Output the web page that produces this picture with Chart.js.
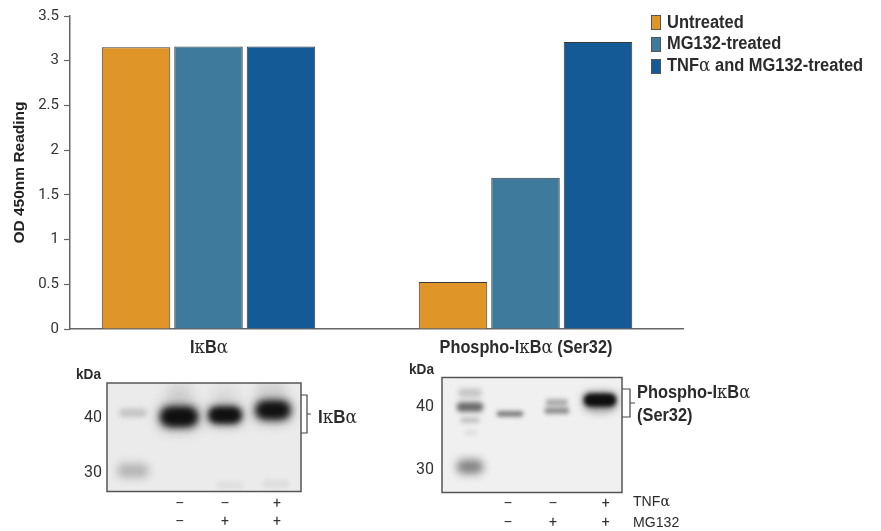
<!DOCTYPE html>
<html>
<head>
<meta charset="utf-8">
<script src="https://cdn.jsdelivr.net/npm/chart.js@4"></script>
<style>
  html, body { margin: 0; padding: 0; background: #fff; overflow: hidden; }
  #page { position: relative; width: 881px; height: 531px; }
  canvas { position: absolute; }
  .t { position: absolute; white-space: nowrap; color: #2b2b2b; font: bold 17.5px "Liberation Sans", sans-serif; line-height: 19px; transform: scaleX(0.94); transform-origin: left center; }
  .t i { font: normal 18px "DejaVu Serif", serif; line-height: 0; }
  .c { transform: translateX(-50%) scaleX(0.93); transform-origin: center center; }
  .n { font-weight: normal; }
  .sw { position: absolute; box-sizing: border-box; width: 10px; height: 15px; border: 1px solid #555; }
</style>
</head>
<body>
<div id="page">
  <canvas id="main" style="left:0;top:0"></canvas>
  <canvas id="blotA" style="left:60px;top:370px"></canvas>
  <canvas id="blotB" style="left:395px;top:365px"></canvas>

  <div class="sw" style="left:651px;top:15px;background:#E09528"></div>
  <div class="sw" style="left:651px;top:37px;background:#3D7A9B"></div>
  <div class="sw" style="left:651px;top:59px;background:#145A96"></div>
  <div class="t" style="left:667px;top:13px">Untreated</div>
  <div class="t" style="left:667px;top:34px">MG132-treated</div>
  <div class="t" style="left:667px;top:56px">TNF<i>α</i> and MG132-treated</div>

  <div class="t c" id="catA" style="top:338px">I<i>κ</i>B<i>α</i></div>
  <div class="t c" id="catB" style="top:338px">Phospho-I<i>κ</i>B<i>α</i> (Ser32)</div>

  <div class="t" style="left:76px;top:365px;font-size:14.5px">kDa</div>
  <div class="t" style="left:409px;top:360px;font-size:14.5px">kDa</div>
  <div class="t" style="left:318px;top:408px;font-size:18px">I<i>κ</i>B<i>α</i></div>
  <div class="t" style="left:637px;top:381px;font-size:18px;line-height:23px;transform:scaleX(0.91)">Phospho-I<i>κ</i>B<i>α</i><br>(Ser32)</div>
  <div class="t n" style="left:633px;top:491px;font-size:15px">TNF<i style="font-size:15px">α</i></div>
  <div class="t n" style="left:633px;top:512px;font-size:15px">MG132</div>
</div>

<script>
const TICK_FONT = 'Roboto, "Liberation Sans", sans-serif';
const INK = '#333';

// bar chart values
const categoryPos = [1, 2];
const seriesNames = ['Untreated', 'MG132-treated', 'TNFα and MG132-treated'];
const seriesColors = ['#E09528', '#3D7A9B', '#145A96'];
const untreated = [3.15, 0.525];
const mg132 = [3.16, 1.69];
const tnfMg132 = [3.16, 3.21];
const yTicks = [0, 0.5, 1, 1.5, 2, 2.5, 3, 3.5];

// blot A: lane 0 = marker, 1-3 = samples. band lane, kDa, darkness, lane width, kDa height
const blotATicks = [40, 30];
const blotATickLanes = [1.02, 2, 3.13];
const blotALabels = [['–', '–'], ['–', '+'], ['+', '+']];
const blotABandLane = [0, 0, 1, 2, 3.04, 1, 2, 3, 2.1, 3.1];
const blotABandKda = [41, 30.5, 40.3, 40.6, 41.5, 44.6, 44.3, 45.3, 27.8, 28.1];
const blotABandDark = [0.18, 0.25, 1, 0.95, 0.95, 0.12, 0.07, 0.1, 0.05, 0.06];
const blotABandW = [0.62, 0.72, 0.78, 0.7, 0.72, 0.6, 0.6, 0.7, 0.6, 0.6];
const blotABandH = [1.5, 2.6, 2.7, 2.3, 2.5, 3.5, 3.5, 3, 1.4, 1.4];

// blot B
const blotBTicks = [40, 30];
const blotBTickLanes = [0.956, 1.956, 3.13];
const blotBLabels = [['–', '–'], ['–', '+'], ['+', '+']];
const blotBBandLane = [0.11, 0.11, 0.11, 0.13, 0.11, 1, 2.04, 2.04, 3, 3];
const blotBBandKda = [40, 42.2, 37.9, 35.9, 30.5, 38.9, 40.7, 39.4, 41.1, 40.5];
const blotBBandDark = [0.6, 0.18, 0.2, 0.08, 0.5, 0.55, 0.3, 0.45, 1, 0.3];
const blotBBandW = [0.62, 0.55, 0.45, 0.3, 0.62, 0.62, 0.52, 0.58, 0.7, 0.7];
const blotBBandH = [1.5, 1.5, 0.9, 0.8, 2.2, 0.85, 1.1, 0.95, 1.5, 2.6];

function makeBars(values) {
    return values.map((v, i) => ({ x: categoryPos[i], y: v }));
}

const bracketPlugin = {
    id: 'brackets',
    afterDraw(chart) {
        const c = chart.ctx;
        c.save();
        c.strokeStyle = '#444';
        c.lineWidth = 1.2;
        [[301, 307, 311, 395, 433], [622, 630, 635, 389, 417]].forEach(b => {
            c.beginPath();
            c.moveTo(b[0], b[3]);
            c.lineTo(b[1], b[3]);
            c.lineTo(b[1], b[4]);
            c.lineTo(b[0], b[4]);
            c.moveTo(b[1], (b[3] + b[4]) / 2);
            c.lineTo(b[2], (b[3] + b[4]) / 2);
            c.stroke();
        });
        c.restore();
    }
};

const mainCanvas = document.getElementById('main');
mainCanvas.width = 881;
mainCanvas.height = 531;
mainCanvas.style.width = '881px';
mainCanvas.style.height = '531px';

const mainChart = new Chart(mainCanvas, {
    type: 'bar',
    data: {
        datasets: [untreated, mg132, tnfMg132].map((values, i) => ({
            label: seriesNames[i],
            data: makeBars(values),
            backgroundColor: seriesColors[i],
            borderColor: '#3a3a3a',
            borderWidth: 1,
            categoryPercentage: 0.686,
            barPercentage: 0.945,
        })),
    },
    options: {
        responsive: false,
        animation: false,
        layout: { padding: { left: 0, top: 16, right: 881 - 683, bottom: 531 - 329 } },
        plugins: { legend: { display: false }, tooltip: { enabled: false } },
        scales: {
            x: {
                type: 'linear',
                offset: false,
                min: 1 - 138.5 / 317,
                max: 1 + 474.5 / 317,
                afterBuildTicks(scale) { scale.ticks = categoryPos.map(value => ({ value })); },
                grid: { display: false },
                border: { color: '#666', width: 1.5 },
                ticks: { display: false },
                afterFit(scale) { scale.height = 0; },
            },
            y: {
                min: 0,
                max: 3.5,
                afterBuildTicks(scale) { scale.ticks = yTicks.map(value => ({ value })); },
                afterFit(scale) { scale.width = 70; scale.paddingTop = 0; scale.paddingBottom = 0; },
                grid: { drawOnChartArea: false, drawTicks: true, tickLength: 6, color: '#666', tickWidth: 1.2 },
                border: { color: '#666', width: 1.5 },
                ticks: {
                    color: INK,
                    padding: 5,
                    font: { family: TICK_FONT, size: 15 },
                    callback: v => String(v),
                },
                title: {
                    display: true,
                    text: 'OD 450nm Reading',
                    color: '#222',
                    padding: { top: 10, bottom: 0 },
                    font: { family: '"Liberation Sans", sans-serif', size: 15.5, weight: 'bold' },
                },
            },
        },
    },
    plugins: [bracketPlugin],
});

// category labels follow the bar scale
document.getElementById('catA').style.left = mainChart.scales.x.getPixelForValue(categoryPos[0]) + 'px';
document.getElementById('catB').style.left = mainChart.scales.x.getPixelForValue(categoryPos[1]) + 'px';

function bandRect(c, x, y, rx, ry, r) {
    c.beginPath();
    c.roundRect(x - rx, y - ry, rx * 2, ry * 2, r);
    c.fill();
}

const bandPlugin = {
    id: 'bands',
    beforeDatasetsDraw(chart) {
        const c = chart.ctx;
        const area = chart.chartArea;
        const d = chart.options.plugins.bands;
        c.save();
        c.fillStyle = d.bg;
        c.fillRect(area.left, area.top, area.width, area.height);
        c.beginPath();
        c.rect(area.left, area.top, area.width, area.height);
        c.clip();
        d.lane.forEach((lane, i) => {
            const x = chart.scales.x.getPixelForValue(lane);
            const y = chart.scales.y.getPixelForValue(d.kda[i]);
            const rx = Math.abs(chart.scales.x.getPixelForValue(d.w[i]) - chart.scales.x.getPixelForValue(0)) / 2;
            const ry = Math.abs(chart.scales.y.getPixelForValue(0) - chart.scales.y.getPixelForValue(d.h[i])) / 2;
            const blur = Math.max(2, ry * 0.6);
            if (d.dark[i] > 0.9) {
                // soft grey halo round the heavy bands
                c.filter = 'blur(' + (blur * 1.5) + 'px)';
                c.fillStyle = 'rgba(40,40,40,0.6)';
                bandRect(c, x, y, rx * 1.02, ry * 1.5, ry);
            }
            c.filter = 'blur(' + blur + 'px)';
            c.fillStyle = 'rgba(15,15,15,' + d.dark[i] + ')';
            bandRect(c, x, y, rx * 0.95, ry, ry * 0.9);
            if (d.dark[i] > 0.9) {
                bandRect(c, x, y, rx * 0.92, ry, ry * 0.9);
            }
        });
        c.restore();
    },
    afterDraw(chart) {
        const c = chart.ctx;
        const area = chart.chartArea;
        c.save();
        c.strokeStyle = '#555';
        c.lineWidth = 1.5;
        c.strokeRect(area.left, area.top, area.width, area.height);
        c.restore();
    }
};

function makeBlot(id, box, yRange, xRange, cfg) {
    const canvas = document.getElementById(id);
    canvas.width = box.w;
    canvas.height = box.h;
    canvas.style.width = box.w + 'px';
    canvas.style.height = box.h + 'px';
    return new Chart(canvas, {
        type: 'scatter',
        data: {
            datasets: [{
                data: cfg.lane.map((lane, i) => ({ x: lane, y: cfg.kda[i] })),
                pointRadius: 0,
            }],
        },
        options: {
            responsive: false,
            animation: false,
            layout: { padding: { left: 0, top: box.top, right: box.right, bottom: 0 } },
            plugins: { legend: { display: false }, tooltip: { enabled: false }, bands: cfg },
            scales: {
                x: {
                    type: 'linear',
                    min: xRange[0],
                    max: xRange[1],
                    grid: { display: false, drawTicks: false },
                    border: { display: false },
                    afterBuildTicks(scale) { scale.ticks = cfg.tickLanes.map(value => ({ value })); },
                    afterFit(scale) { scale.height = box.h - box.top - box.plotH; scale.paddingLeft = 0; scale.paddingRight = 0; },
                    afterTickToLabelConversion(scale) {
                        scale.ticks.forEach((t, i) => { t.label = cfg.labels[i]; });
                    },
                    ticks: {
                        color: INK,
                        padding: box.xPad,
                        maxRotation: 0,
                        autoSkip: false,
                        font: { family: TICK_FONT, size: 14, lineHeight: box.xLine },
                    },
                },
                y: {
                    min: yRange[0],
                    max: yRange[1],
                    grid: { display: false, drawTicks: false },
                    border: { display: false },
                    afterBuildTicks(scale) { scale.ticks = cfg.ticks.map(value => ({ value })); },
                    afterFit(scale) { scale.width = box.left; scale.paddingTop = 0; scale.paddingBottom = 0; },
                    ticks: {
                        color: INK,
                        padding: box.yPad,
                        font: { family: TICK_FONT, size: 16 },
                    },
                },
            },
        },
        plugins: [bandPlugin],
    });
}

makeBlot('blotA',
    { w: 250, h: 161, left: 47, top: 13, right: 9, plotH: 108.5, xPad: 4, xLine: 1.29, yPad: 5 },
    [26.7, 46.43],
    [-0.565, 3.65],
    {
        lane: blotABandLane, kda: blotABandKda, dark: blotABandDark, w: blotABandW, h: blotABandH,
        ticks: blotATicks, tickLanes: blotATickLanes, labels: blotALabels, bg: '#ebebeb',
    });

makeBlot('blotB',
    { w: 240, h: 166, left: 47, top: 12.5, right: 13, plotH: 115, xPad: 2, xLine: 1.36, yPad: 8 },
    [26.42, 44.67],
    [-0.511, 3.489],
    {
        lane: blotBBandLane, kda: blotBBandKda, dark: blotBBandDark, w: blotBBandW, h: blotBBandH,
        ticks: blotBTicks, tickLanes: blotBTickLanes, labels: blotBLabels, bg: '#f0f0f0',
    });
</script>
</body>
</html>
